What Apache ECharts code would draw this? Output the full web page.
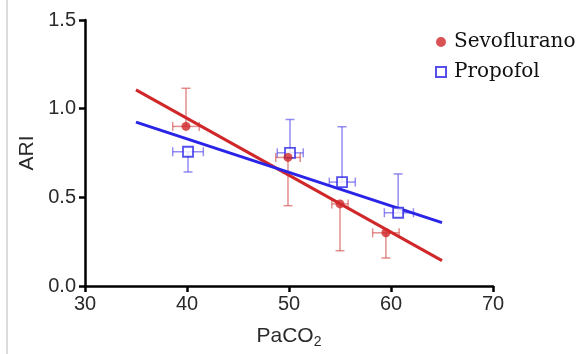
<!DOCTYPE html>
<html>
<head>
<meta charset="utf-8">
<script src="https://cdn.jsdelivr.net/npm/echarts@6/dist/echarts.min.js"></script>
<style>
  html, body { margin: 0; padding: 0; background: #fff; }
  #chart { width: 583px; height: 354px; }
</style>
</head>
<body>
<div id="chart"></div>
<script>
// Sevoflurano: means and error bar ends
const sevoX = [39.9, 49.9, 55.0, 59.5];
const sevoY = [0.90, 0.725, 0.463, 0.30];
const sevoXLo = [38.6, 48.7, 54.2, 58.2];
const sevoXHi = [41.2, 51.1, 55.8, 60.8];
const sevoYLo = [0.90, 0.453, 0.199, 0.158];
const sevoYHi = [1.115, 0.725, 0.463, 0.30];

// Propofol
const propX = [40.1, 50.1, 55.2, 60.7];
const propY = [0.757, 0.751, 0.586, 0.413];
const propXLo = [38.6, 48.85, 53.95, 59.35];
const propXHi = [41.6, 51.4, 56.5, 62.2];
const propYLo = [0.643, 0.751, 0.586, 0.413];
const propYHi = [0.757, 0.939, 0.898, 0.632];

// regression line ends
const fitX = [35, 65];
const sevoFit = [1.106, 0.143];
const propFit = [0.924, 0.357];

const xTicks = [30, 40, 50, 60, 70];
const yTicks = ['0.0', '0.5', '1.0', '1.5'];

const red = '#d0282a';
const blue = '#2a24e6';

function zip(a, b) { return a.map((v, i) => [v, b[i]]); }

function errData(x, y, xl, xh, yl, yh) {
  return x.map((v, i) => [v, y[i], xl[i], xh[i], yl[i], yh[i]]);
}

function errSeries(name, data, color) {
  return {
    name: name,
    type: 'custom',
    data: data,
    z: 1,
    renderItem: function (params, api) {
      const c = api.coord([api.value(0), api.value(1)]);
      const xl = api.coord([api.value(2), api.value(1)])[0];
      const xh = api.coord([api.value(3), api.value(1)])[0];
      const yl = api.coord([api.value(0), api.value(4)])[1];
      const yh = api.coord([api.value(0), api.value(5)])[1];
      const cap = 4.5;
      const st = { stroke: color, lineWidth: 1.5 };
      const kids = [
        { type: 'line', shape: { x1: xl, y1: c[1], x2: xh, y2: c[1] }, style: st },
        { type: 'line', shape: { x1: xl, y1: c[1] - cap, x2: xl, y2: c[1] + cap }, style: st },
        { type: 'line', shape: { x1: xh, y1: c[1] - cap, x2: xh, y2: c[1] + cap }, style: st }
      ];
      if (Math.abs(yl - c[1]) > 1) {
        kids.push({ type: 'line', shape: { x1: c[0], y1: c[1], x2: c[0], y2: yl }, style: st });
        kids.push({ type: 'line', shape: { x1: c[0] - cap, y1: yl, x2: c[0] + cap, y2: yl }, style: st });
      }
      if (Math.abs(yh - c[1]) > 1) {
        kids.push({ type: 'line', shape: { x1: c[0], y1: c[1], x2: c[0], y2: yh }, style: st });
        kids.push({ type: 'line', shape: { x1: c[0] - cap, y1: yh, x2: c[0] + cap, y2: yh }, style: st });
      }
      return { type: 'group', children: kids };
    }
  };
}

const chart = echarts.init(document.getElementById('chart'), null, { renderer: 'canvas' });

const sans = 'Liberation Sans, Arial, sans-serif';
const axisFont = { fontFamily: sans, fontSize: 20, color: '#2a2a2a' };

chart.setOption({
  animation: false,
  backgroundColor: '#fff',
  grid: { left: 85, right: 90, top: 20, bottom: 65 },
  graphic: [{
    type: 'line',
    shape: { x1: 7, y1: 0, x2: 7, y2: 354 },
    style: { stroke: '#dcdcdc', lineWidth: 2 }
  }],
  legend: {
    orient: 'vertical',
    left: 430,
    top: 27,
    itemGap: 10,
    itemWidth: 10,
    itemHeight: 10,
    data: [
      { name: 'Sevoflurano', icon: 'circle' },
      { name: 'Propofol', icon: 'rect' }
    ],
    textStyle: { fontFamily: 'DejaVu Serif, serif', fontSize: 20, color: '#111', padding: [0, 0, 0, 3] }
  },
  xAxis: {
    type: 'value',
    min: xTicks[0],
    max: xTicks[xTicks.length - 1],
    interval: 10,
    name: '{n|PaCO}{s|2}',
    nameLocation: 'middle',
    nameGap: 37,
    nameTextStyle: {
      rich: {
        n: { fontFamily: sans, fontSize: 21, color: '#2a2a2a' },
        s: { fontFamily: sans, fontSize: 14, color: '#2a2a2a', verticalAlign: 'bottom', padding: [12, 0, 0, 0] }
      }
    },
    axisLine: { lineStyle: { color: '#000', width: 2.5 } },
    axisTick: { length: 6, lineStyle: { color: '#000', width: 2.5 } },
    axisLabel: Object.assign({ margin: 8 }, axisFont),
    splitLine: { show: false }
  },
  yAxis: {
    type: 'value',
    min: 0,
    max: 1.5,
    interval: 0.5,
    name: 'ARI',
    nameLocation: 'middle',
    nameGap: 47,
    nameTextStyle: { fontFamily: sans, fontSize: 21, color: '#2a2a2a' },
    axisLine: { show: true, lineStyle: { color: '#000', width: 2.5 } },
    axisTick: { show: true, length: 6, lineStyle: { color: '#000', width: 2.5 } },
    axisLabel: Object.assign({
      margin: 9,
      formatter: function (v) { return yTicks[Math.round(v / 0.5)]; }
    }, axisFont),
    splitLine: { show: false }
  },
  series: [
    errSeries('sevoErr', errData(sevoX, sevoY, sevoXLo, sevoXHi, sevoYLo, sevoYHi), 'rgba(214,80,80,0.65)'),
    errSeries('propErr', errData(propX, propY, propXLo, propXHi, propYLo, propYHi), 'rgba(90,80,235,0.65)'),
    {
      name: 'sevoFit', type: 'line', data: zip(fitX, sevoFit), symbol: 'none', z: 2,
      lineStyle: { color: red, width: 3 }
    },
    {
      name: 'propFit', type: 'line', data: zip(fitX, propFit), symbol: 'none', z: 2,
      lineStyle: { color: blue, width: 3 }
    },
    {
      name: 'Propofol', type: 'scatter', data: zip(propX, propY), z: 3,
      symbol: 'rect', symbolSize: 10,
      itemStyle: { color: '#fff', borderColor: blue, borderWidth: 1.8 }
    },
    {
      name: 'Sevoflurano', type: 'scatter', data: zip(sevoX, sevoY), z: 4,
      symbol: 'circle', symbolSize: 9, itemStyle: { color: red }
    }
  ]
});
</script>
</body>
</html>
